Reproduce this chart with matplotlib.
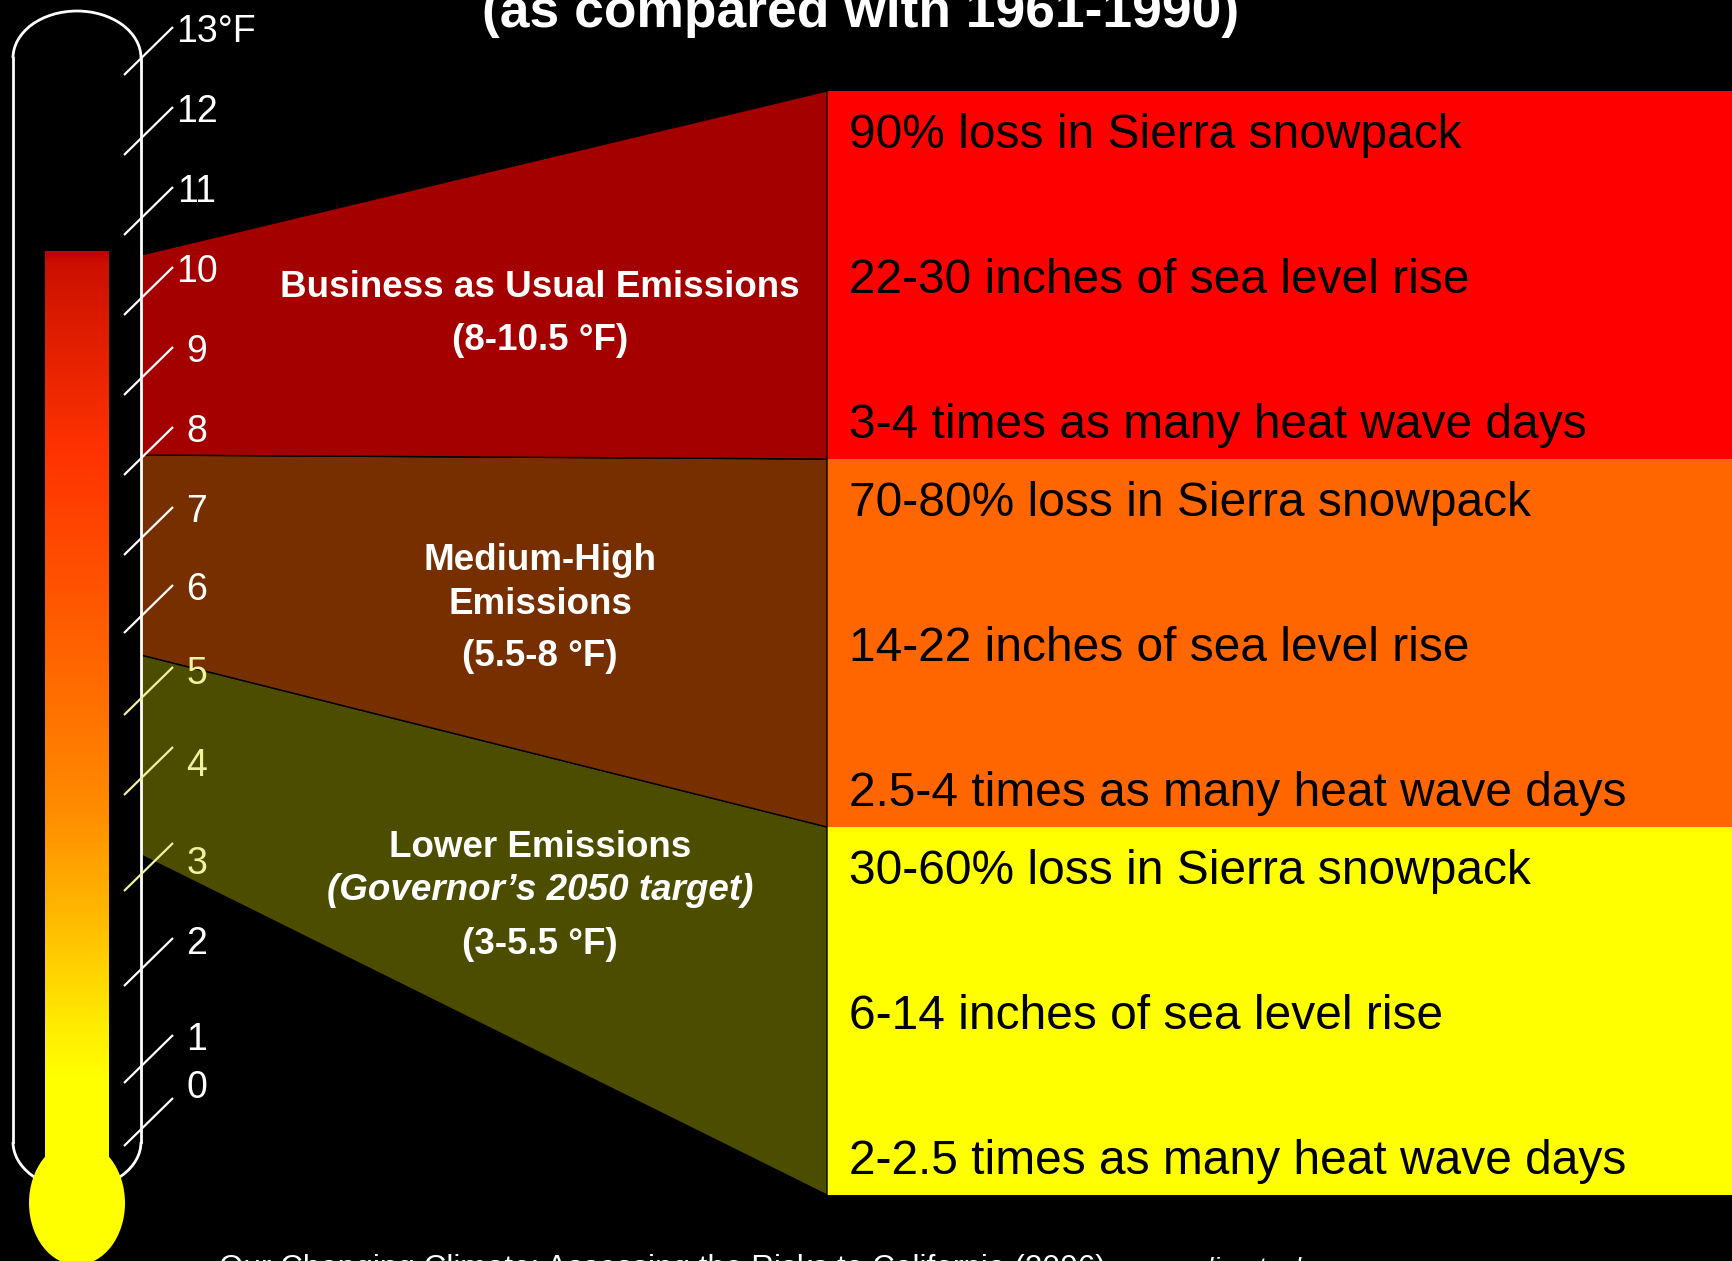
import numpy as np
import matplotlib
matplotlib.use("Agg")
import matplotlib.pyplot as plt
from matplotlib.patches import Polygon, Rectangle, Ellipse, Arc
from matplotlib.colors import LinearSegmentedColormap

# ---------------- data ----------------
title = "(as compared with 1961-1990)"
source = "Our Changing Climate: Assessing the Risks to California (2006)"
source_url = "www.climatechange.ca.gov"

temp_ticks = [0, 1, 2, 3, 4, 5, 6, 7, 8, 9, 10, 11, 12, 13]
tick_labels = ["0", "1", "2", "3", "4", "5", "6", "7", "8", "9", "10", "11", "12", "13°F"]
mercury_level = 10.5

scenario_names = [["Lower Emissions"], ["Medium-High", "Emissions"], ["Business as Usual Emissions"]]
scenario_notes = ["(Governor’s 2050 target)", None, None]
scenario_low = [3.0, 5.5, 8.0]
scenario_high = [5.5, 8.0, 10.5]
scenario_range_labels = ["(3-5.5 °F)", "(5.5-8 °F)", "(8-10.5 °F)"]

snowpack = ["30-60% loss in Sierra snowpack", "70-80% loss in Sierra snowpack",
            "90% loss in Sierra snowpack"]
sea_level = ["6-14 inches of sea level rise", "14-22 inches of sea level rise",
             "22-30 inches of sea level rise"]
heat_wave = ["2-2.5 times as many heat wave days", "2.5-4 times as many heat wave days",
             "3-4 times as many heat wave days"]

# ---------------- styling / layout ----------------
wedge_colors = ["#4D4D00", "#772F00", "#A50000"]
box_colors = ["#FFFF00", "#FF6600", "#FF0000"]
tick_colors = ["white", "white", "white", "#F2F29E", "#F2F29E", "#F2F29E",
               "white", "white", "white", "white", "white", "white", "white", "white"]
# hand-drawn irregularities of the thermometer scale (pixels)
tick_shift = [31, 48, 31, 16, 0, 0, -2, 0, 0, 0, 0, 0, 0, 0]
label_shift = [-14, 1, 2, 17, 16, 4, 2, 1, 1, 1, 1, 1, 2, 1]
name_first_baseline = [857, 570, 297]

W, H = 1733, 1261
Y0, K = 1095, 80.0          # °F -> pixel scale at the thermometer


def fy(t):
    return Y0 - K * np.asarray(t, dtype=float)


X_TH_L, X_TH_R, X_TH_C = 13, 141, 77
X_BOX = 827
BOX_BOTTOM, BOX_H = 1195, 368
FONT = "Liberation Sans"

fig = plt.figure(figsize=(W / 100, H / 100), dpi=100)
fig.patch.set_facecolor("black")
ax = fig.add_axes([0, 0, 1, 1])
ax.set_xlim(0, W)
ax.set_ylim(H, 0)
ax.axis("off")
ax.set_facecolor("black")

# ---------------- right boxes and wedges ----------------
for i in range(3):
    top = BOX_BOTTOM - BOX_H * (i + 1)
    bot = BOX_BOTTOM - BOX_H * i
    ax.add_patch(Rectangle((X_BOX, top), W - X_BOX, BOX_H, facecolor=box_colors[i],
                           edgecolor="none", zorder=1))
    poly = [(X_TH_R, fy(scenario_high[i])), (X_BOX, top), (X_BOX, bot),
            (X_TH_R, fy(scenario_low[i]))]
    ax.add_patch(Polygon(poly, closed=True, facecolor=wedge_colors[i],
                         edgecolor="black", lw=1.0, zorder=1.5))
    # impacts text
    for j, txt in enumerate([snowpack[i], sea_level[i], heat_wave[i]]):
        ax.text(X_BOX + 22, top + 57 + 145 * j, txt, fontsize=34.5, family=FONT,
                color="black", ha="left", va="baseline", zorder=3)
    # scenario labels
    xc = 540
    yb = name_first_baseline[i]
    lines = list(scenario_names[i])
    for k, ln in enumerate(lines):
        ax.text(xc, yb + 43.5 * k, ln, fontsize=26.5, family=FONT, weight="bold",
                color="white", ha="center", va="baseline", zorder=3)
    y_last = yb + 43.5 * (len(lines) - 1)
    if scenario_notes[i]:
        y_last += 43.5
        ax.text(xc, y_last, scenario_notes[i], fontsize=26.5, family=FONT,
                weight="bold", style="italic", color="white", ha="center",
                va="baseline", zorder=3)
    ax.text(xc, y_last + 53, scenario_range_labels[i], fontsize=26.5, family=FONT,
            weight="bold", color="white", ha="center", va="baseline", zorder=3)

# ---------------- thermometer ----------------
# mercury column gradient
top_m = float(fy(mercury_level)) - 4
bot_m = 1185.0
stops = [(0.0, "#C20000"), (0.012, "#CC1000"), (0.214, "#FF3300"), (0.445, "#FF6600"),
         (0.60, "#FF8C00"), (0.71, "#FFB800"), (0.82, "#FFE800"), (0.885, "#FFFF00"),
         (1.0, "#FFFF00")]
cmap = LinearSegmentedColormap.from_list("merc", stops)
grad = np.linspace(0, 1, 512).reshape(-1, 1)
ax.imshow(grad, cmap=cmap, aspect="auto", extent=[45, 109, bot_m, top_m],
          interpolation="bilinear", zorder=2)
ax.add_patch(Ellipse((X_TH_C, 1203), 96, 124, facecolor="#FFFF00", edgecolor="none",
                     zorder=2.2))

# outline
ow = X_TH_R - X_TH_L
ax.plot([X_TH_L, X_TH_L], [58, 1142], color="white", lw=2, zorder=4)
ax.plot([X_TH_R, X_TH_R], [58, 1142], color="white", lw=2, zorder=4)
ax.add_patch(Arc((X_TH_C, 58), ow, 94, theta1=180, theta2=360, color="white", lw=2,
                 zorder=4))
ax.add_patch(Arc((X_TH_C, 1142), ow, 94, theta1=0, theta2=180, color="white", lw=2,
                 zorder=2.1))

# ticks and labels
for t, lab, c, ts, ls in zip(temp_ticks, tick_labels, tick_colors, tick_shift, label_shift):
    ytop = float(fy(t)) - 28 + ts
    ax.plot([124, 173], [ytop + 48, ytop], color=c, lw=1.6, zorder=5,
            solid_capstyle="butt")
    yl = ytop + ls + 13.5
    if lab.endswith("F"):
        ax.text(176, yl, lab, fontsize=27, family=FONT, color=c, ha="left",
                va="baseline", zorder=5)
    else:
        ax.text(197, yl, lab, fontsize=27, family=FONT, color=c, ha="center",
                va="baseline", zorder=5)

# ---------------- title & source ----------------
ax.text(861, 27, title, fontsize=38.4, family=FONT, weight="bold", color="white",
        ha="center", va="baseline", zorder=6)
ax.text(219, 1277, source, fontsize=22.7, family=FONT, color="white", ha="left",
        va="baseline", zorder=6, clip_on=False)
ax.text(1128, 1277, source_url, fontsize=20, family=FONT, style="italic",
        color="white", ha="left", va="baseline", zorder=6, clip_on=False)

fig.savefig("out.png", dpi=100, facecolor="black")
